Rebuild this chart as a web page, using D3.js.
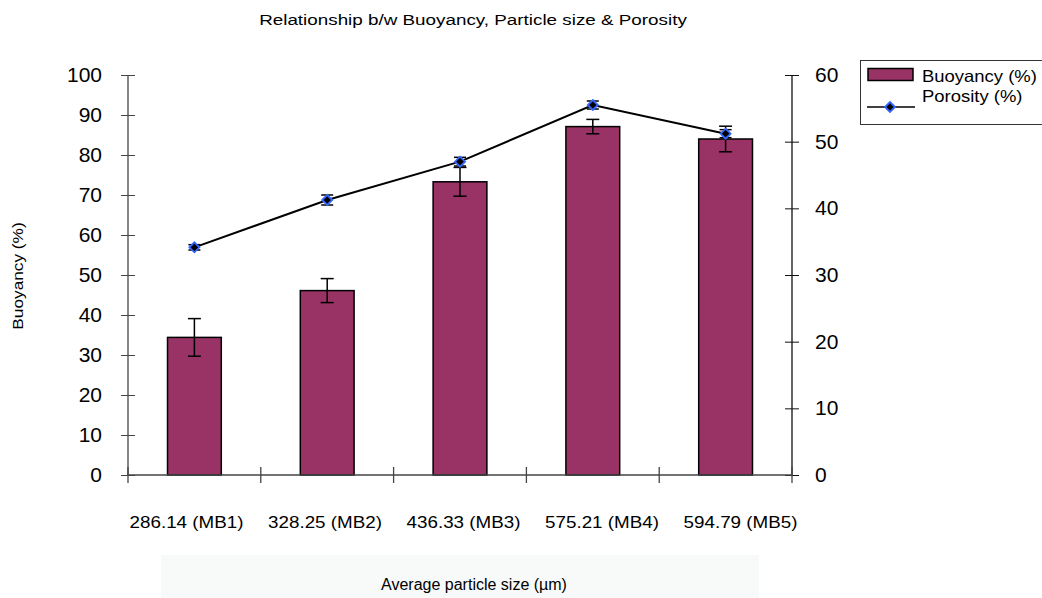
<!DOCTYPE html>
<html><head><meta charset="utf-8">
<script src="https://cdn.jsdelivr.net/npm/d3@7"></script>
<style>body{margin:0;background:#fff}svg{display:block}text{font-family:"Liberation Sans",Arial,sans-serif;fill:#000}</style>
</head><body><svg id="c" width="1042" height="598"></svg>
<script>
const categories = ["286.14 (MB1)","328.25 (MB2)","436.33 (MB3)","575.21 (MB4)","594.79 (MB5)"];
const buoyancy = [34.4, 46.1, 73.3, 87.1, 84.0];
const buoyancyErr = [4.7, 3.0, 3.6, 1.8, 3.2];
const porosity = [34.15, 41.25, 47.0, 55.5, 51.2];
const porosityErr = [0.4, 0.75, 0.65, 0.6, 0.6];
const leftTicks = [0,10,20,30,40,50,60,70,80,90,100];
const rightTicks = [0,10,20,30,40,50,60];
const title = "Relationship b/w Buoyancy, Particle size & Porosity";
const xTitle = "Average particle size (\u00b5m)";
const yTitle = "Buoyancy (%)";
const seriesNames = ["Buoyancy (%)","Porosity (%)"];

const svg = d3.select("#c");
const L=128, R=792, B=475, T=75;
const x = d3.scaleBand().domain(categories).range([L,R]);
const xLab = d3.scalePoint().domain(categories).range([186,740]);
const yL = d3.scaleLinear().domain([0,100]).range([B,T]);
const yR = d3.scaleLinear().domain([0,60]).range([B,T]);
const bw = x.bandwidth(), barW = bw*0.405;
const barColor = "#993366";

// horizontal stretch helper (around the text's anchor point)
function stretch(sel, sx){
  sel.each(function(){
    const t = d3.select(this);
    const tx = +t.attr("x")||0, ty = +t.attr("y")||0;
    const prev = t.attr("transform")||"";
    t.attr("transform", `${prev} translate(${tx},${ty}) scale(${sx},1) translate(${-tx},${-ty})`);
  });
}

// x title background
svg.append("rect").attr("x",161).attr("y",555).attr("width",598).attr("height",43).attr("fill","#f8fafa");

// title
svg.append("text").attr("x",473).attr("y",25).attr("text-anchor","middle").style("font-size","14.5px").text(title).call(stretch,1.3);

// bars
svg.append("g").selectAll("rect").data(buoyancy).join("rect")
  .attr("x",(d,i)=>x(categories[i])+bw/2-barW/2).attr("width",barW)
  .attr("y",d=>yL(d)).attr("height",d=>B-yL(d))
  .attr("fill",barColor).attr("stroke","#000").attr("stroke-width",1.5);

// bar error bars
const eb = svg.append("g").attr("stroke","#000").attr("stroke-width",1.5);
buoyancy.forEach((v,i)=>{
  const cx = x(categories[i])+bw/2;
  eb.append("line").attr("x1",cx).attr("x2",cx).attr("y1",yL(v+buoyancyErr[i])).attr("y2",yL(v-buoyancyErr[i]));
  [v+buoyancyErr[i], v-buoyancyErr[i]].forEach(e=>eb.append("line").attr("x1",cx-6.5).attr("x2",cx+6.5).attr("y1",yL(e)).attr("y2",yL(e)));
});

// axes
const gl = svg.append("g").attr("transform",`translate(${L},0)`)
  .call(d3.axisLeft(yL).tickValues(leftTicks).tickSize(7).tickPadding(19));
gl.select(".domain").attr("stroke","#444").attr("stroke-width",1.3).attr("d",`M0,${T}V${B}`);
gl.selectAll(".tick line").attr("x1",7).attr("stroke","#444");
gl.selectAll(".tick text").style("font-size","20px").attr("font-family",null).call(stretch,1.05);

const gr = svg.append("g").attr("transform",`translate(${R},0)`)
  .call(d3.axisRight(yR).tickValues(rightTicks).tickSize(7).tickPadding(16));
gr.select(".domain").attr("stroke","#111").attr("stroke-width",1.3).attr("d",`M0,${T}V${B}`);
gr.selectAll(".tick line").attr("x1",-7).attr("stroke","#111");
gr.selectAll(".tick text").style("font-size","20px").attr("font-family",null).call(stretch,1.05);

// x axis line and boundary ticks
svg.append("path").attr("d",`M${L},${B}H${R}`).attr("stroke","#444").attr("stroke-width",1.3).attr("fill","none");
const bounds = categories.map(c=>x(c)).concat([R]);
svg.append("g").selectAll("line").data(bounds).join("line")
  .attr("x1",d=>d).attr("x2",d=>d).attr("y1",B-8).attr("y2",B+8).attr("stroke","#444").attr("stroke-width",1.3);
// x category labels
const gx = svg.append("g").attr("transform",`translate(0,${B})`)
  .call(d3.axisBottom(xLab).tickSize(0).tickPadding(41));
gx.select(".domain").remove();
gx.selectAll(".tick text").style("font-size","16.5px").attr("font-family",null).call(stretch,1.14);

// porosity line
const line = d3.line().x((d,i)=>x(categories[i])+bw/2).y(d=>yR(d));
svg.append("path").datum(porosity).attr("d",line).attr("fill","none").attr("stroke","#000").attr("stroke-width",2);
const pe = svg.append("g").attr("stroke","#000").attr("stroke-width",1.5);
porosity.forEach((v,i)=>{
  const cx = x(categories[i])+bw/2;
  pe.append("line").attr("x1",cx).attr("x2",cx).attr("y1",yR(v+porosityErr[i])).attr("y2",yR(v-porosityErr[i]));
  [v+porosityErr[i], v-porosityErr[i]].forEach(e=>pe.append("line").attr("x1",cx-6).attr("x2",cx+6).attr("y1",yR(e)).attr("y2",yR(e)));
});
const dia = "M0,-5L5,0L0,5L-5,0Z";
svg.append("g").selectAll("path").data(porosity).join("path")
  .attr("d",dia).attr("transform",(d,i)=>`translate(${x(categories[i])+bw/2},${yR(d)})`)
  .attr("fill","#000").attr("stroke","#3366ff").attr("stroke-width",1.8);

// axis titles
svg.append("text").attr("transform","translate(23,276) rotate(-90)").attr("text-anchor","middle").style("font-size","15px").text(yTitle).call(stretch,1.15);
svg.append("text").attr("x",474).attr("y",590).attr("text-anchor","middle").style("font-size","16px").text(xTitle);

// legend
const lg = svg.append("g");
lg.append("rect").attr("x",860.5).attr("y",60.5).attr("width",200).attr("height",64).attr("fill","#fff").attr("stroke","#333").attr("stroke-width",1);
lg.append("rect").attr("x",868).attr("y",68.5).attr("width",45).attr("height",12).attr("fill",barColor).attr("stroke","#000").attr("stroke-width",1.5);
lg.append("text").attr("x",922).attr("y",82).style("font-size","16.5px").text(seriesNames[0]).call(stretch,1.12);
lg.append("line").attr("x1",867).attr("x2",915).attr("y1",107).attr("y2",107).attr("stroke","#000").attr("stroke-width",1.5);
lg.append("path").attr("d",dia).attr("transform","translate(890,107)").attr("fill","#000").attr("stroke","#3366ff").attr("stroke-width",1.8);
lg.append("text").attr("x",922).attr("y",102).style("font-size","16.5px").text(seriesNames[1]).call(stretch,1.12);
</script></body></html>
